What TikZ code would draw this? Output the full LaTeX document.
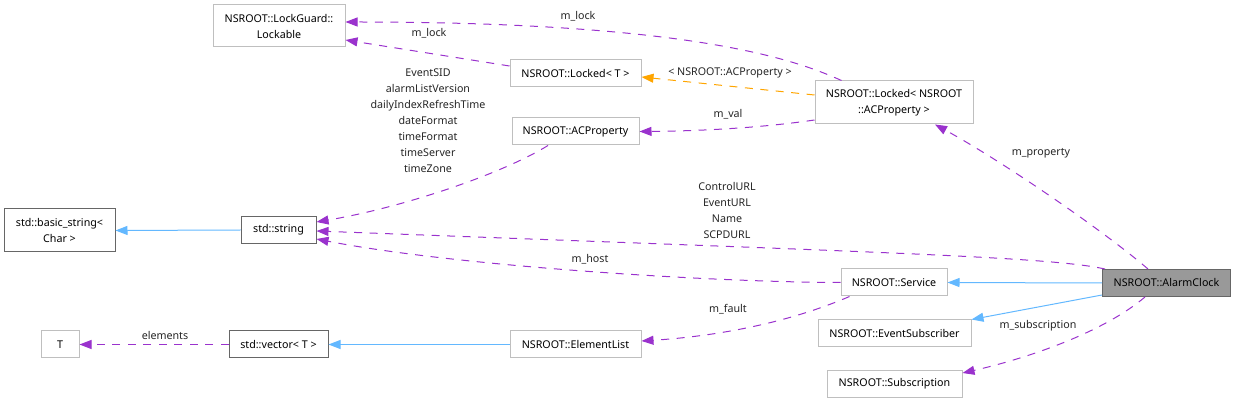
\documentclass[tikz,border=0pt]{standalone}
\usepackage{fontspec}
\setmainfont{Noto Sans}
\usepackage{tikz}
\usepackage{xcolor}
\usetikzlibrary{arrows.meta}
\definecolor{memline}{HTML}{9A32CD}
\definecolor{inhline}{HTML}{63B8FF}
\definecolor{tmplline}{HTML}{FFA500}
\definecolor{extborder}{HTML}{BFBFBF}
\definecolor{docborder}{HTML}{666666}
\definecolor{rootfill}{HTML}{999999}

\begin{document}
\begin{tikzpicture}[
  x=1pt, y=-1pt,
  font=\fontsize{10.7}{16}\selectfont,
  ext/.style={draw=extborder, line width=1pt, fill=white, inner sep=0pt, align=center, minimum height=27pt},
  doc/.style={draw=docborder, line width=1pt, fill=white, inner sep=0pt, align=center, minimum height=27pt},
  root/.style={draw=docborder, line width=1pt, fill=rootfill, inner sep=0pt, align=center, minimum height=27pt},
  lbl/.style={inner sep=0pt, align=center, text=black!85},
  member/.style={-{Triangle[length=12pt,width=9pt]}, memline, line width=1pt, dash pattern=on 8pt off 7.5pt},
  inherit/.style={-{Triangle[length=12pt,width=9pt]}, inhline, line width=1pt},
  tmpl/.style={-{Triangle[length=12pt,width=9pt]}, tmplline, line width=1pt, dash pattern=on 8pt off 7.5pt}
]
\useasboundingbox (0,0) rectangle (1235,403);

\node[ext, minimum width=132pt, minimum height=42pt] (lockable) at (279,26) {NSROOT::LockGuard::\\Lockable};
\node[ext, minimum width=131pt] (lockedt) at (575.5,73.5) {NSROOT::Locked< T >};
\node[ext, minimum width=127pt] (acprop) at (575.5,131.5) {NSROOT::ACProperty};
\node[ext, minimum width=158pt, minimum height=43pt] (lockedac) at (894,102.5) {NSROOT::Locked< NSROOT\\::ACProperty >};
\node[doc, minimum width=111pt, minimum height=43pt] (basicstr) at (59.5,230.5) {std::basic\_string<\\Char >};
\node[doc, minimum width=75pt] (str) at (278.5,230) {std::string};
\node[ext, minimum width=38pt] (tnode) at (60,344.5) {T};
\node[doc, minimum width=99pt] (vec) at (278.5,344.5) {std::vector< T >};
\node[ext, minimum width=131pt] (elist) at (575.5,344.5) {NSROOT::ElementList};
\node[ext, minimum width=106pt] (service) at (894,282.5) {NSROOT::Service};
\node[root, minimum width=128pt] (alarm) at (1166.5,283) {NSROOT::AlarmClock};
\node[ext, minimum width=153pt] (evsub) at (894.5,333.5) {NSROOT::EventSubscriber};
\node[ext, minimum width=135pt] (subscr) at (894.5,384) {NSROOT::Subscription};

\draw[member] ([xshift=27pt]lockedac.north west) .. controls (800,62) and (700,22) .. ([yshift=4pt]lockable.east);
\draw[member] ([yshift=7.5pt]lockedt.west) -- ([yshift=-14pt]lockable.east);
\draw[tmpl] ([yshift=7.5pt]lockedac.west) -- ([yshift=-3.5pt]lockedt.east);
\draw[member] ([yshift=-17.5pt]lockedac.west) .. controls (760,128) and (700,131) .. (acprop.east);
\draw[member] ([xshift=-27.5pt]acprop.south) .. controls (500,175) and (400,208) .. ([yshift=8pt]str.east);
\draw[member] ([xshift=3pt]alarm.north west) .. controls (1050,257) and (900,253) .. ([yshift=-1pt]str.east);
\draw[member] (service.west) .. controls (700,282) and (450,265) .. ([yshift=-9pt]str.east);
\draw[inherit] (str.west) -- (basicstr.east);
\draw[member] (vec.west) -- (tnode.east);
\draw[inherit] (elist.west) -- (vec.east);
\draw[member] ([xshift=9pt]service.south west) .. controls (790,322) and (720,336) .. ([yshift=3.5pt]elist.east);
\draw[inherit] (alarm.west) -- (service.east);
\draw[inherit] ([yshift=2pt]alarm.south west) -- (evsub.north east);
\draw[member] ([xshift=46pt]alarm.north west) .. controls (1100,228) and (1000,160) .. ([xshift=41pt]lockedac.south);
\draw[member] ([xshift=43pt]alarm.south west) .. controls (1100,335) and (1020,360) .. ([yshift=11pt]subscr.east);

\node[lbl] (lblocka) at (578,16) {m\_lock};
\node[lbl] (lblockb) at (429,33) {m\_lock};
\node[lbl] (ltmpl) at (730,73) {< NSROOT::ACProperty >};
\node[lbl] (lval) at (728,114) {m\_val};
\node[lbl] (lprops) at (428,121) {EventSID\\alarmListVersion\\dailyIndexRefreshTime\\dateFormat\\timeFormat\\timeServer\\timeZone};
\node[lbl] (lurls) at (727,210) {ControlURL\\EventURL\\Name\\SCPDURL};
\node[lbl] (lprop) at (1041,153) {m\_property};
\node[lbl] (lhost) at (590,259) {m\_host};
\node[lbl] (lfault) at (728,309) {m\_fault};
\node[lbl] (lelem) at (165,335) {elements};
\node[lbl] (lsub) at (1038,326) {m\_subscription};
\end{tikzpicture}
\end{document}
